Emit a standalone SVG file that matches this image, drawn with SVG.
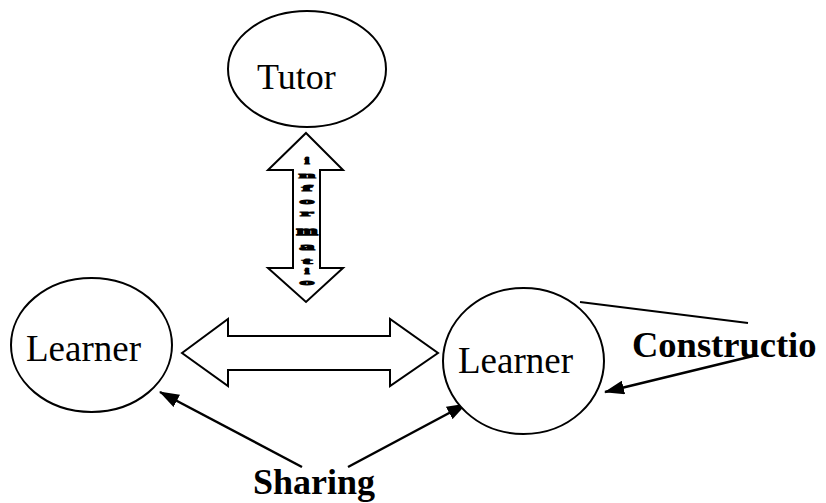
<svg xmlns="http://www.w3.org/2000/svg" width="826" height="503" viewBox="0 0 826 503">
  <style>
    .node { fill: #ffffff; stroke: #000000; stroke-width: 2; }
    .label { font-family: "Liberation Serif", "Times New Roman", serif; fill: #000000; }
    .bold { font-weight: bold; }
    .block { fill: #ffffff; stroke: #000000; stroke-width: 2; stroke-linejoin: miter; }
    .link { fill: none; stroke: #000000; stroke-width: 2.5; }
    .plain { fill: none; stroke: #000000; stroke-width: 2; }
    .vt { font-family: "Liberation Serif", "Times New Roman", serif; font-weight: bold; font-size: 30px; text-anchor: middle; fill: #000000; stroke: #000000; stroke-width: 3; }
  </style>
  <defs>
    <marker id="head" viewBox="0 0 20 14" refX="19" refY="7" markerWidth="20" markerHeight="14" markerUnits="userSpaceOnUse" orient="auto">
      <path d="M0,0 L20,7 L0,14 Z" fill="#000000"/>
    </marker>
  </defs>
  <rect width="826" height="503" fill="#ffffff"/>

  <g id="connectors">
    <!-- tutor <-> learner block arrow -->
    <polygon class="block" points="306,133 343,170 320,170 320,268 343,268 306,302 268,268 293,268 293,170 268,170"/>
    <!-- learner <-> learner block arrow -->
    <polygon class="block" points="182,353 228,319 228,336 390,336 390,319 438,353 390,386 390,370 228,370 228,386"/>
    <!-- construction loop -->
    <line class="plain" x1="580" y1="302" x2="748" y2="323"/>
    <line class="link" x1="753" y1="356" x2="605" y2="392" marker-end="url(#head)"/>
    <!-- sharing arrows -->
    <line class="link" x1="302" y1="467" x2="160" y2="392" marker-end="url(#head)"/>
    <line class="link" x1="348" y1="467" x2="466" y2="404" marker-end="url(#head)"/>
  </g>

  <g id="info-label">
    <text class="vt" transform="translate(307,164) scale(0.6,0.35)">i</text>
    <text class="vt" transform="translate(307,178) scale(1,0.3)">n</text>
    <text class="vt" transform="translate(307,191) scale(1,0.3)">f</text>
    <text class="vt" transform="translate(307,204) scale(1,0.3)">o</text>
    <text class="vt" transform="translate(307,216) scale(1,0.3)">r</text>
    <text class="vt" transform="translate(307,235) scale(0.85,0.45)">m</text>
    <text class="vt" transform="translate(307,250) scale(1,0.35)">a</text>
    <text class="vt" transform="translate(307,264) scale(1,0.3)">t</text>
    <text class="vt" transform="translate(307,274) scale(0.6,0.3)">i</text>
    <text class="vt" transform="translate(307,285) scale(1,0.3)">o</text>
  </g>

  <g id="tutor">
    <ellipse class="node" cx="307" cy="69" rx="79" ry="58"/>
    <text class="label" x="257" y="89" font-size="36">Tutor</text>
  </g>

  <g id="learner-left">
    <ellipse class="node" cx="91.5" cy="345" rx="80.5" ry="67"/>
    <text class="label" x="26" y="361" font-size="37">Learner</text>
  </g>

  <g id="learner-right">
    <ellipse class="node" cx="523.5" cy="361" rx="80.5" ry="73"/>
    <text class="label" x="458" y="373" font-size="37">Learner</text>
  </g>

  <g id="construction">
    <text class="label bold" x="632" y="357" font-size="36.5">Constructio</text>
  </g>

  <g id="sharing">
    <text class="label bold" x="253" y="494" font-size="36">Sharing</text>
  </g>
</svg>
